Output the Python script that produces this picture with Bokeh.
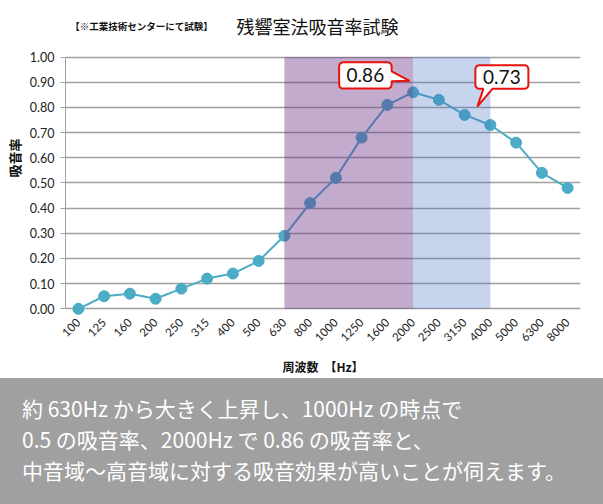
import numpy as np
from bokeh.plotting import figure
from bokeh.models import Range1d, FixedTicker, PrintfTickFormatter, Label, Div
from bokeh.layouts import column
from bokeh.embed import file_html
from bokeh.resources import INLINE

# ---------------- data ----------------
freqs = ["100", "125", "160", "200", "250", "315", "400", "500", "630", "800",
         "1000", "1250", "1600", "2000", "2500", "3150", "4000", "5000", "6300", "8000"]
absorption = [0.00, 0.05, 0.06, 0.04, 0.08, 0.12, 0.14, 0.19, 0.29, 0.42,
              0.52, 0.68, 0.81, 0.86, 0.83, 0.77, 0.73, 0.66, 0.54, 0.48]
y_ticks = [0.0, 0.1, 0.2, 0.3, 0.4, 0.5, 0.6, 0.7, 0.8, 0.9, 1.0]
mid_band = ("630", "2000")
high_band = ("2000", "4000")
callout_freqs = ["2000", "4000"]

title_text = "残響室法吸音率試験"
note_text = "【※工業技術センターにて試験】"
y_label = "吸音率"
x_label = "周波数　【Hz】"
summary_lines = [
    "約 630Hz から大きく上昇し、1000Hz の時点で",
    "0.5 の吸音率、2000Hz で 0.86 の吸音率と、",
    "中音域～高音域に対する吸音効果が高いことが伺えます。",
]

# ---------------- layout constants ----------------
W, H = 603, 378
BL, BR, BT, BB = 65, 23, 0, 62
FW, FH = W - BL - BR, H - BT - BB
n = len(freqs)
SX = FW / n                # px per category
SY = 252.6                 # px per unit of absorption
TOP_GAP = 56.7             # px from canvas top to the 1.00 line
Y1 = 1.0 + TOP_GAP / SY
Y0 = Y1 - FH / SY

CJK = "Noto Sans CJK JP"
LAT = "Lato"
TEAL = "#4bacc6"


def dx_page(px):
    return (px - BL) / SX - 0.5


def dy_page(py):
    return Y1 - (py - BT) / SY


xs = list(range(n))

p = figure(width=W, height=H, x_range=Range1d(-0.5, n - 0.5), y_range=Range1d(Y0, Y1),
           output_backend="svg", toolbar_location=None,
           min_border_left=BL, min_border_right=BR, min_border_top=BT, min_border_bottom=BB,
           background_fill_color="white", border_fill_color="white")
p.outline_line_color = None

# axes
p.xaxis.ticker = FixedTicker(ticks=xs)
p.xaxis.major_label_overrides = {i: f for i, f in enumerate(freqs)}
p.xaxis.major_label_orientation = np.pi / 4
p.xaxis.major_label_text_font = LAT
p.xaxis.major_label_text_font_size = "11.5px"
p.xaxis.major_label_text_color = "#222222"
p.xaxis.major_label_standoff = 5
p.xaxis.major_tick_out = 0
p.xaxis.major_tick_in = 0
p.xaxis.minor_tick_line_color = None
p.xaxis.axis_line_color = None
p.xaxis.axis_label = x_label
p.xaxis.axis_label_text_font = CJK
p.xaxis.axis_label_text_font_style = "bold"
p.xaxis.axis_label_text_font_size = "12px"
p.xaxis.axis_label_text_color = "#111111"
p.xaxis.axis_label_standoff = 10

p.yaxis.ticker = FixedTicker(ticks=y_ticks)
p.yaxis.formatter = PrintfTickFormatter(format="%.2f")
p.yaxis.bounds = (0, 1)
p.yaxis.major_label_text_font = LAT
p.yaxis.major_label_text_font_size = "12.5px"
p.yaxis.major_label_text_color = "#222222"
p.yaxis.major_label_standoff = 6
p.yaxis.major_tick_out = 5
p.yaxis.major_tick_in = 0
p.yaxis.minor_tick_line_color = None
p.yaxis.axis_line_color = "#a0a0a0"
p.yaxis.major_tick_line_color = "#a0a0a0"
p.yaxis.axis_label = y_label
p.yaxis.axis_label_text_font = CJK
p.yaxis.axis_label_text_font_style = "bold"
p.yaxis.axis_label_text_font_size = "13px"
p.yaxis.axis_label_text_color = "#111111"
p.yaxis.axis_label_standoff = 3

p.xgrid.visible = False
p.ygrid.ticker = FixedTicker(ticks=y_ticks)
p.ygrid.grid_line_color = "#a0a0a0"
p.ygrid.grid_line_width = 1.3

# series
p.line(xs, absorption, line_color=TEAL, line_width=2)
p.scatter(xs, absorption, size=11, fill_color=TEAL, line_color=TEAL)

# shaded bands (drawn over the line, translucent)
i0, i1 = freqs.index(mid_band[0]), freqs.index(mid_band[1])
j0, j1 = freqs.index(high_band[0]), freqs.index(high_band[1])
p.quad(left=[i0], right=[i1], bottom=[0], top=[1], fill_color="#6a2c84", fill_alpha=0.4, line_color=None)
p.quad(left=[j0], right=[j1], bottom=[0], top=[1], fill_color="#4472c4", fill_alpha=0.3, line_color=None)


# callouts (pixel offsets relative to the annotated point, y down)
def callout_poly(box, r, tail_edge, base, tip):
    x0, x1, y0, y1 = box
    pts = []

    def arc(cx, cy, a0, a1):
        for t in np.linspace(a0, a1, 7):
            pts.append((cx + r * np.cos(t), cy + r * np.sin(t)))

    arc(x1 - r, y0 + r, -np.pi / 2, 0)
    if tail_edge == "right":
        pts.extend([(x1, base[0]), tip, (x1, base[1])])
    arc(x1 - r, y1 - r, 0, np.pi / 2)
    if tail_edge == "bottom":
        pts.extend([(base[1], y1), tip, (base[0], y1)])
    arc(x0 + r, y1 - r, np.pi / 2, np.pi)
    arc(x0 + r, y0 + r, np.pi, 1.5 * np.pi)
    return pts


callout_specs = {
    "2000": dict(box=(-74, -21.5, -30, -3.7), tail_edge="right", base=(-21, -11), tip=(-3.5, -11.5)),
    "4000": dict(box=(-15, 38, -60, -36.3), tail_edge="bottom", base=(-7, 2), tip=(-13, -18.5)),
}

for f in callout_freqs:
    k = freqs.index(f)
    ax, ay = xs[k], absorption[k]
    spec = callout_specs[f]
    pts = callout_poly(spec["box"], 4, spec["tail_edge"], spec["base"], spec["tip"])
    px = [ax + dx / SX for dx, dy in pts]
    py = [ay - dy / SY for dx, dy in pts]
    p.patch(px, py, fill_color="white", line_color="#e8120c", line_width=2)
    bx0, bx1, by0, by1 = spec["box"]
    p.add_layout(Label(x=ax + (bx0 + bx1) / 2 / SX, y=ay - (by0 + by1) / 2 / SY,
                       text=f"{ay:.2f}", text_align="center", text_baseline="middle",
                       text_font=LAT, text_font_size="19px", text_color="#111111"))

# titles (inside the frame's top white strip)
p.add_layout(Label(x=dx_page(317), y=dy_page(26), text=title_text, text_align="center",
                   text_baseline="middle", text_font=CJK, text_font_size="18px",
                   text_color="#111111"))
p.add_layout(Label(x=dx_page(141), y=dy_page(26), text=note_text, text_align="center",
                   text_baseline="middle", text_font=CJK, text_font_size="9.5px",
                   text_font_style="bold", text_color="#111111"))

summary = Div(text="<br>".join(summary_lines), width=W, height=504 - H, margin=0,
              styles={"background-color": "#a0a0a0", "color": "white",
                      "font-family": "'Noto Sans CJK JP', sans-serif", "font-size": "21px",
                      "line-height": "31px", "padding": "15px 0 0 22px",
                      "box-sizing": "border-box", "white-space": "nowrap"})

layout = column(p, summary, spacing=0)
open("out.html", "w").write(file_html(layout, INLINE))
